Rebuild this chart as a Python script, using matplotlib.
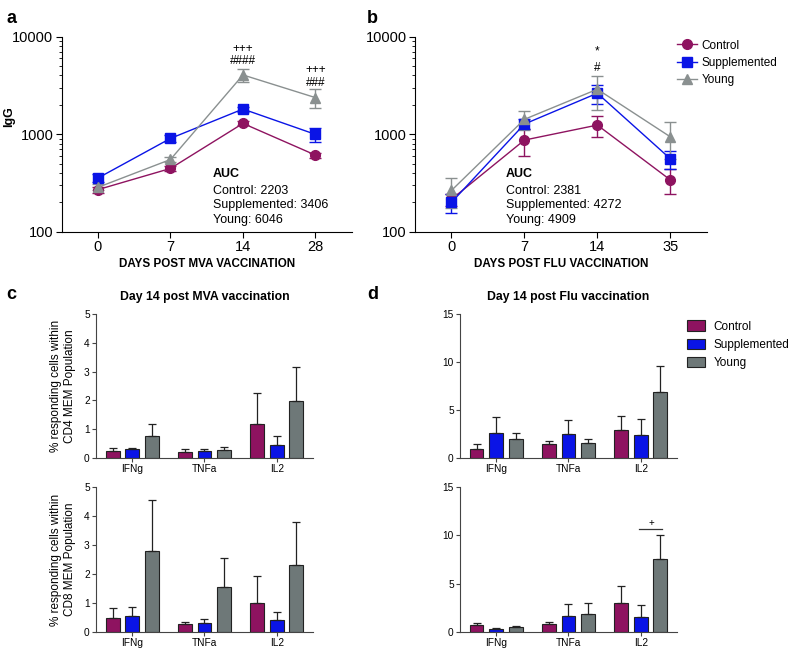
import numpy as np
import matplotlib
matplotlib.use('Agg')
import matplotlib.pyplot as plt
from matplotlib.lines import Line2D

plt.rcParams['font.family'] = ['Liberation Sans', 'DejaVu Sans']

groups = ['Control', 'Supplemented', 'Young']
line_cols = ['#8E1360', '#0A14E6', '#8A9090']
bar_cols = ['#8E1360', '#0A14E6', '#6E7878']
markers = ['o', 's', '^']

# a: IgG after MVA
mva_days = ['0', '7', '14', '28']
mva_mean = {
    'Control': [270, 445, 1290, 610],
    'Supplemented': [355, 905, 1810, 995],
    'Young': [285, 550, 4050, 2370],
}
mva_err = {
    'Control': [20, 25, 60, 35],
    'Supplemented': [35, 80, 110, 170],
    'Young': [20, 30, 620, 520],
}
mva_auc = {'Control': 2203, 'Supplemented': 3406, 'Young': 6046}

# b: IgG after flu
flu_days = ['0', '7', '14', '35']
flu_mean = {
    'Control': [215, 870, 1240, 340],
    'Supplemented': [200, 1270, 2630, 560],
    'Young': [265, 1420, 2890, 940],
}
flu_err = {
    'Control': [30, 270, 300, 95],
    'Supplemented': [45, 150, 600, 120],
    'Young': [90, 320, 1100, 380],
}
flu_auc = {'Control': 2381, 'Supplemented': 4272, 'Young': 4909}

# c/d: cytokine responses
cytokines = ['IFNg', 'TNFa', 'IL2']
mva_cd4 = {'Control': [0.25, 0.22, 1.17], 'Supplemented': [0.30, 0.25, 0.45], 'Young': [0.75, 0.27, 1.97]}
mva_cd4_err = {'Control': [0.10, 0.08, 1.10], 'Supplemented': [0.05, 0.07, 0.33], 'Young': [0.42, 0.10, 1.18]}
mva_cd8 = {'Control': [0.48, 0.25, 1.00], 'Supplemented': [0.54, 0.31, 0.40], 'Young': [2.79, 1.54, 2.30]}
mva_cd8_err = {'Control': [0.35, 0.10, 0.94], 'Supplemented': [0.33, 0.14, 0.27], 'Young': [1.78, 1.02, 1.51]}
flu_cd4 = {'Control': [0.94, 1.50, 2.96], 'Supplemented': [2.61, 2.54, 2.37], 'Young': [1.98, 1.57, 6.89]}
flu_cd4_err = {'Control': [0.49, 0.28, 1.43], 'Supplemented': [1.64, 1.39, 1.73], 'Young': [0.63, 0.45, 2.68]}
flu_cd8 = {'Control': [0.66, 0.83, 3.00], 'Supplemented': [0.28, 1.63, 1.49], 'Young': [0.48, 1.84, 7.52]}
flu_cd8_err = {'Control': [0.28, 0.21, 1.70], 'Supplemented': [0.10, 1.21, 1.25], 'Young': [0.07, 1.10, 2.53]}

fig = plt.figure(figsize=(7.94, 6.49), dpi=100)


def line_panel(ax, days, mean, err, auc, xlabel, auc_x):
    x = np.arange(len(days))
    for g, c, m in zip(groups, line_cols, markers):
        ax.errorbar(x, mean[g], yerr=err[g], color=c, marker=m, ms=7 if m != '^' else 6.5,
                    lw=1.0, elinewidth=1.0, capsize=4, capthick=1.0)
    ax.set_yscale('log')
    ax.set_ylim(100, 10000)
    ax.set_xlim(-0.5, 3.5)
    ax.set_xticks(x)
    ax.set_xticklabels(days, fontsize=10.5)
    ax.set_yticks([100, 1000, 10000])
    ax.set_yticklabels(['100', '1000', '10000'], fontsize=10.5)
    ax.tick_params(which='minor', length=2)
    ax.tick_params(which='major', length=4, pad=2)
    for s in ['top', 'right']:
        ax.spines[s].set_visible(False)
    ax.set_xlabel(xlabel, fontsize=8.4, fontweight='bold', labelpad=3)
    ax.text(auc_x, 0.296, 'AUC', transform=ax.transAxes, fontsize=9, fontweight='bold', va='center')
    for i, g in enumerate(groups):
        ax.text(auc_x, 0.21 - i * 0.075, f'{g}: {auc[g]}', transform=ax.transAxes,
                fontsize=9, va='center')


def bar_panel(ax, means, errs, ymax, step):
    x = np.arange(len(cytokines))
    for i, (g, c) in enumerate(zip(groups, bar_cols)):
        ax.bar(x + (i - 1) * 0.27, means[g], width=0.19, color=c, edgecolor='#222222', lw=0.8,
               yerr=[np.zeros(3), errs[g]], capsize=3,
               error_kw=dict(elinewidth=0.9, capthick=0.9, ecolor='#222222'), label=g)
    ax.set_xlim(-0.5, 2.5)
    ax.set_ylim(0, ymax)
    ax.set_yticks(np.arange(0, ymax + 0.1, step))
    ax.set_xticks(x)
    ax.set_xticklabels(cytokines, fontsize=7.3)
    ax.tick_params(labelsize=7.3, length=3, color='#444444', pad=1.5)
    for s in ['top', 'right']:
        ax.spines[s].set_visible(False)
    for s in ['left', 'bottom']:
        ax.spines[s].set_color('#444444')


# a
ax_a = fig.add_axes([0.0777, 0.643, 0.3653, 0.3005])
line_panel(ax_a, mva_days, mva_mean, mva_err, mva_auc, 'DAYS POST MVA VACCINATION', 0.522)
ax_a.set_ylabel('IgG', fontsize=9, fontweight='bold')
ax_a.yaxis.set_label_coords(-0.16, 0.59)
ax_a.text(2, 7470, '+++', ha='center', va='center', fontsize=8.5)
ax_a.text(2, 5610, '####', ha='center', va='center', fontsize=8.5)
ax_a.text(3, 4500, '+++', ha='center', va='center', fontsize=8.5)
ax_a.text(3, 3350, '###', ha='center', va='center', fontsize=8.5)

# b
ax_b = fig.add_axes([0.5227, 0.643, 0.3674, 0.3005])
line_panel(ax_b, flu_days, flu_mean, flu_err, flu_auc, 'DAYS POST FLU VACCINATION', 0.312)
ax_b.text(2, 7120, '*', ha='center', va='center', fontsize=8.5)
ax_b.text(2, 4755, '#', ha='center', va='center', fontsize=8.5)
handles = [Line2D([], [], color=c, marker=m, ms=7 if m != '^' else 6.5, lw=1.0)
           for c, m in zip(line_cols, markers)]
ax_b.legend(handles, groups, loc='upper left', bbox_to_anchor=(0.898, 0.985), frameon=False,
            fontsize=8.5, borderpad=0, borderaxespad=0, handlelength=1.7, handletextpad=0.4,
            labelspacing=0.45)

# c
ax_c1 = fig.add_axes([0.1209, 0.2943, 0.2733, 0.2219])
bar_panel(ax_c1, mva_cd4, mva_cd4_err, 5, 1)
ax_c1.set_ylabel('% responding cells within\nCD4 MEM Population', fontsize=8.5, labelpad=6)
ax_c1.set_title('Day 14 post MVA vaccination', fontsize=8.8, fontweight='bold', pad=10)

ax_c2 = fig.add_axes([0.1209, 0.0267, 0.2733, 0.2224])
bar_panel(ax_c2, mva_cd8, mva_cd8_err, 5, 1)
ax_c2.set_ylabel('% responding cells within\nCD8 MEM Population', fontsize=8.5, labelpad=6)

# d
ax_d1 = fig.add_axes([0.5793, 0.2943, 0.2733, 0.2219])
bar_panel(ax_d1, flu_cd4, flu_cd4_err, 15, 5)
ax_d1.set_title('Day 14 post Flu vaccination', fontsize=8.8, fontweight='bold', pad=10)
ax_d1.legend(loc='upper left', bbox_to_anchor=(1.046, 0.955), frameon=False, fontsize=8.5,
             borderpad=0, borderaxespad=0, handlelength=1.5, handleheight=1.0,
             handletextpad=0.75, labelspacing=0.5)

ax_d2 = fig.add_axes([0.5793, 0.0267, 0.2733, 0.2224])
bar_panel(ax_d2, flu_cd8, flu_cd8_err, 15, 5)
ax_d2.plot([2 - 0.02, 2 + 0.30], [10.65, 10.65], color='#333333', lw=0.9)
ax_d2.text(2 + 0.14, 10.8, '+', ha='center', va='bottom', fontsize=7)

for lbl, (x, y) in zip('abcd', [(0.008, 0.985), (0.462, 0.985), (0.008, 0.56), (0.462, 0.56)]):
    fig.text(x, y, lbl, fontsize=13, fontweight='bold', va='top')

plt.savefig('out.png', dpi=100)
